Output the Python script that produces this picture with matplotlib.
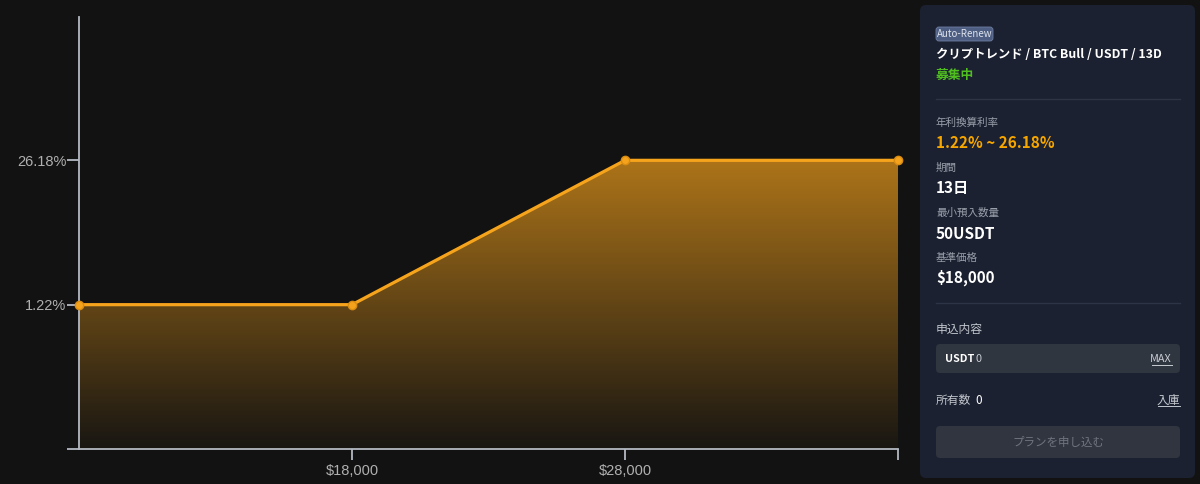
import numpy as np
import matplotlib
matplotlib.use("Agg")
import matplotlib.pyplot as plt
from matplotlib.patches import FancyBboxPatch, Polygon
from matplotlib.colors import LinearSegmentedColormap

# ---- data ----
prices = [8000, 18000, 28000, 38000]
apr = [1.22, 1.22, 26.18, 26.18]
x_ticks = [18000, 28000, 38000]
x_tick_labels = ["$18,000", "$28,000", ""]
y_ticks = [1.22, 26.18]
y_tick_labels = ["1.22%", "26.18%"]

BG = "#121212"
ORANGE = "#f7a41d"
AXIS = "#b4b9c2"
TXT = "#b0b0b0"

fig = plt.figure(figsize=(12, 4.84), dpi=100, facecolor=BG)
ax = fig.add_axes([79/1200, 35/484, (898-79)/1200, (449-17)/484])
ax.set_facecolor(BG)

step = y_ticks[1] - y_ticks[0]
ylo = y_ticks[0] - step
yhi = y_ticks[1] + step * (143/144)
ax.set_xlim(prices[0], prices[-1])
ax.set_ylim(ylo, yhi)

# gradient fill
verts = [(prices[0], ylo)] + list(zip(prices, apr)) + [(prices[-1], ylo)]
poly = Polygon(verts, closed=True, facecolor="none", edgecolor="none")
ax.add_patch(poly)
cmap = LinearSegmentedColormap.from_list(
    "g", [(0, (0.97, 0.64, 0.11, 0.03)), (1, (0.97, 0.64, 0.11, 0.68))])
grad = np.linspace(0, 1, 256).reshape(-1, 1)
im = ax.imshow(grad, cmap=cmap, aspect="auto", origin="lower",
               extent=[prices[0], prices[-1], ylo, max(apr)], zorder=1)
im.set_clip_path(poly)

ax.plot(prices, apr, color=ORANGE, lw=2.3, zorder=3, solid_capstyle="round",
        marker="o", markersize=6, markerfacecolor="#f5a21c",
        markeredgecolor="#d98c12", markeredgewidth=1.0, clip_on=False)

for s in ["top", "right"]:
    ax.spines[s].set_visible(False)
for s in ["left", "bottom"]:
    ax.spines[s].set_color(AXIS)
    ax.spines[s].set_linewidth(1.3)

ax.set_xticks(x_ticks)
ax.set_xticklabels(x_tick_labels)
ax.set_yticks([ylo] + y_ticks)
ax.set_yticklabels([""] + y_tick_labels)
ax.tick_params(axis="x", direction="out", length=8, width=1.3, color=AXIS,
               labelcolor=TXT, labelsize=10.5, pad=3)
ax.tick_params(axis="y", direction="out", length=9, width=1.3, color=AXIS,
               labelcolor=TXT, labelsize=10.5, pad=0)
for lab in ax.get_xticklabels() + ax.get_yticklabels():
    lab.set_fontfamily("Liberation Sans")

# ---- right panel ----
F = ["Noto Sans CJK JP", "DejaVu Sans"]
W, H = 1200, 484

def fx(px):
    return px / W

def fy(py):
    return 1 - py / H

def rbox(x0, y0, x1, y1, fc, r=4, ec="none", lw=0):
    p = FancyBboxPatch((fx(x0), fy(y1)), fx(x1 - x0), (y1 - y0) / H,
                       boxstyle=f"round,pad=0,rounding_size={r/W}",
                       transform=fig.transFigure, facecolor=fc,
                       edgecolor=ec, linewidth=lw, mutation_aspect=W / H)
    fig.patches.append(p)

def t(px, py, s, color="white", size=9, weight="normal", ha="left", **kw):
    return fig.text(fx(px), fy(py), s, color=color, fontsize=size,
                    fontweight=weight, ha=ha, va="center", family=F, **kw)

def hline(x0, x1, py, color, lw=1):
    fig.add_artist(plt.Line2D([fx(x0), fx(x1)], [fy(py), fy(py)],
                              transform=fig.transFigure, color=color, lw=lw))

rbox(920, 5, 1195, 478, "#1b2130", r=6)
rbox(936, 27, 993, 41, "#4d5e82", r=3, ec="#6d7fa3", lw=0.6)
t(964.5, 34, "Auto-Renew", color="#dde2ec", size=7.0, ha="center")
t(936, 54, "クリプトレンド / BTC Bull / USDT / 13D", size=8.9, weight="bold")
t(936, 75, "募集中", color="#4fbf1f", size=9.2, weight="bold")
hline(936, 1180, 99, "#2d3446")
t(936, 123, "年利換算利率", color="#9aa0ab", size=7.6)
t(936, 143, "1.22% ~ 26.18%", color="#f7a600", size=11, weight="bold")
t(936, 168, "期間", color="#9aa0ab", size=7.6)
t(936, 188, "13日", size=11, weight="bold")
t(936, 213, "最小預入数量", color="#9aa0ab", size=7.6)
t(936, 234, "50USDT", size=11, weight="bold")
t(936, 258, "基準価格", color="#9aa0ab", size=7.6)
t(936, 278, "$18,000", size=11, weight="bold")
hline(936, 1180, 303, "#2d3446")
t(936, 329, "申込内容", color="#c3c7ce", size=8.5)
rbox(936, 344, 1180, 373, "#30363f", r=4)
t(945, 359, "USDT", size=7.8, weight="bold")
t(975, 359, "0", color="#c8ccd3", size=7.8)
t(1172, 359, "MAX", color="#c8ccd3", size=7.8, ha="right")
hline(1152, 1172, 364.5, "#c8ccd3", 0.7)
t(936, 400, "所有数", color="#c3c7ce", size=8.5)
t(975, 400, "0", size=8.5)
t(1180, 400, "入庫", color="#c3c7ce", size=8.5, ha="right")
hline(1158, 1180, 406, "#c3c7ce", 0.7)
rbox(936, 426, 1180, 458, "#30353f", r=4)
t(1058, 442, "プランを申し込む", color="#6f7480", size=8.3, ha="center")

fig.savefig("out.png", dpi=100, facecolor=BG)
